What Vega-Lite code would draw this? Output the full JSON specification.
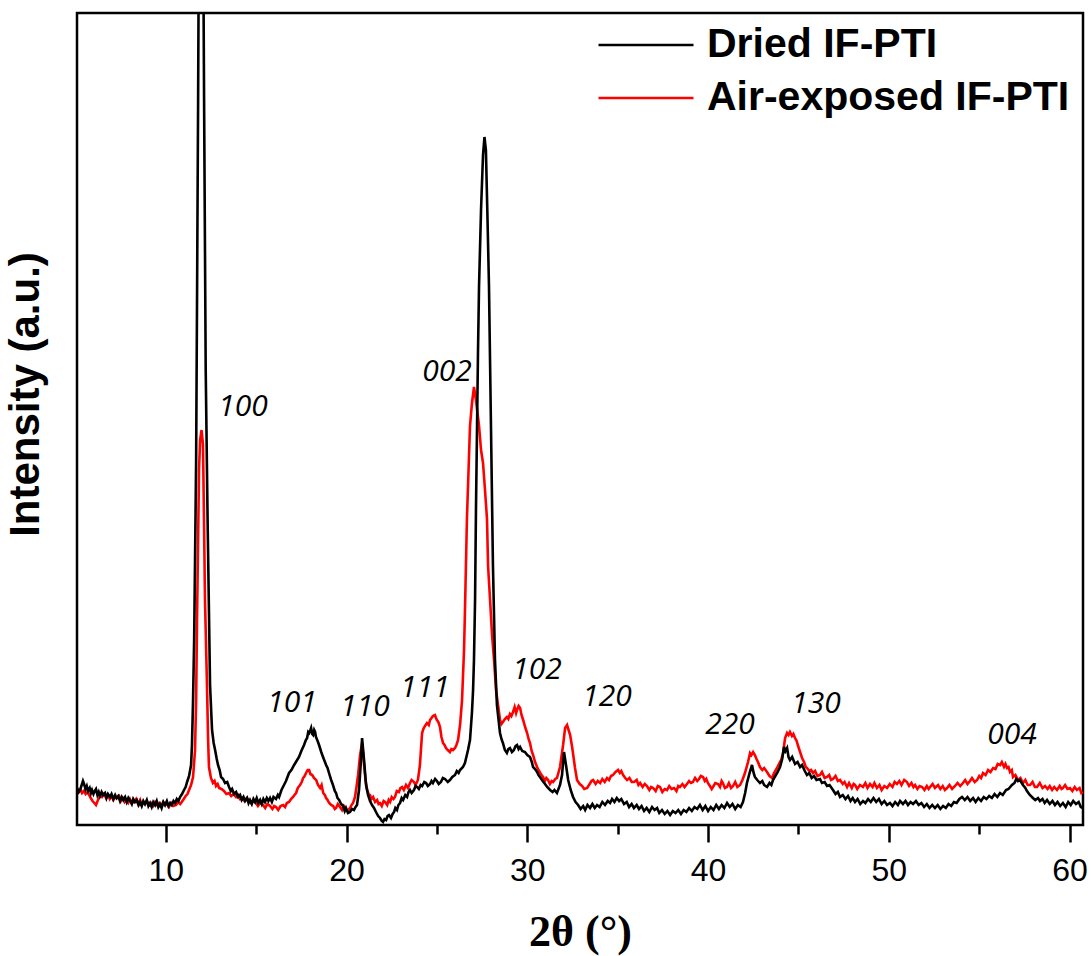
{
"$schema": "https://vega.github.io/schema/vega-lite/v6.json",
"width": 1006, "height": 812,
"autosize": {"type": "none"},
"padding": {"left": 77, "top": 13, "right": 8, "bottom": 131},
"background": "white",
"config": {"view": {"stroke": "black", "strokeWidth": 2.5}},
"datasets": {
"air": [
{"t":5.09,"i":37},{"t":5.2,"i":33},{"t":5.3,"i":35},{"t":5.37,"i":32},{"t":5.47,"i":34},{"t":5.57,"i":31},{"t":5.67,"i":33},{"t":5.76,"i":30},{"t":5.85,"i":27},{"t":5.95,"i":24},{"t":6.05,"i":22},{"t":6.14,"i":20},{"t":6.25,"i":25},{"t":6.36,"i":29},{"t":6.47,"i":28},{"t":6.58,"i":31},{"t":6.7,"i":27},{"t":6.8,"i":30},{"t":6.9,"i":26},{"t":7.0,"i":29},{"t":7.1,"i":25},{"t":7.2,"i":28},{"t":7.31,"i":27},{"t":7.42,"i":29},{"t":7.52,"i":24},{"t":7.62,"i":27},{"t":7.72,"i":23},{"t":7.8,"i":25},{"t":7.92,"i":22},{"t":8.02,"i":26},{"t":8.13,"i":22},{"t":8.25,"i":23},{"t":8.36,"i":26},{"t":8.47,"i":21},{"t":8.58,"i":25},{"t":8.67,"i":20},{"t":8.74,"i":23},{"t":8.85,"i":21},{"t":8.96,"i":24},{"t":9.08,"i":20},{"t":9.19,"i":22},{"t":9.3,"i":19},{"t":9.41,"i":23},{"t":9.52,"i":20},{"t":9.63,"i":22},{"t":9.74,"i":19},{"t":9.85,"i":23},{"t":9.96,"i":20},{"t":10.07,"i":21},{"t":10.18,"i":18},{"t":10.3,"i":22},{"t":10.42,"i":19},{"t":10.57,"i":20},{"t":10.68,"i":23},{"t":10.8,"i":21},{"t":10.96,"i":25},{"t":11.1,"i":29},{"t":11.2,"i":31},{"t":11.29,"i":35},{"t":11.4,"i":40},{"t":11.51,"i":48},{"t":11.62,"i":75},{"t":11.68,"i":125},{"t":11.73,"i":205},{"t":11.79,"i":285},{"t":11.84,"i":355},{"t":11.9,"i":385},{"t":11.98,"i":395},{"t":12.06,"i":380},{"t":12.12,"i":298},{"t":12.17,"i":225},{"t":12.28,"i":140},{"t":12.34,"i":87},{"t":12.39,"i":58},{"t":12.5,"i":47},{"t":12.61,"i":42},{"t":12.7,"i":44},{"t":12.78,"i":39},{"t":12.87,"i":41},{"t":12.95,"i":37},{"t":13.08,"i":36},{"t":13.22,"i":34},{"t":13.35,"i":31},{"t":13.5,"i":32},{"t":13.62,"i":29},{"t":13.75,"i":31},{"t":13.89,"i":28},{"t":14.0,"i":30},{"t":14.1,"i":26},{"t":14.22,"i":27},{"t":14.35,"i":24},{"t":14.48,"i":27},{"t":14.61,"i":25},{"t":14.72,"i":22},{"t":14.85,"i":24},{"t":14.99,"i":22},{"t":15.1,"i":19},{"t":15.22,"i":22},{"t":15.38,"i":20},{"t":15.5,"i":17},{"t":15.62,"i":21},{"t":15.77,"i":19},{"t":15.9,"i":16},{"t":16.0,"i":19},{"t":16.1,"i":18},{"t":16.22,"i":15},{"t":16.35,"i":19},{"t":16.49,"i":20},{"t":16.6,"i":18},{"t":16.7,"i":22},{"t":16.82,"i":23},{"t":16.93,"i":26},{"t":17.04,"i":28},{"t":17.12,"i":30},{"t":17.21,"i":32},{"t":17.3,"i":37},{"t":17.43,"i":40},{"t":17.52,"i":43},{"t":17.6,"i":47},{"t":17.68,"i":49},{"t":17.76,"i":52},{"t":17.85,"i":55},{"t":17.93,"i":55},{"t":18.0,"i":51},{"t":18.1,"i":50},{"t":18.2,"i":47},{"t":18.32,"i":45},{"t":18.42,"i":40},{"t":18.54,"i":37},{"t":18.62,"i":40},{"t":18.71,"i":32},{"t":18.8,"i":30},{"t":18.87,"i":27},{"t":18.95,"i":25},{"t":19.04,"i":22},{"t":19.15,"i":20},{"t":19.26,"i":19},{"t":19.35,"i":16},{"t":19.42,"i":17},{"t":19.52,"i":21},{"t":19.64,"i":18},{"t":19.75,"i":15},{"t":19.85,"i":19},{"t":19.92,"i":17},{"t":20.05,"i":14},{"t":20.19,"i":17},{"t":20.28,"i":20},{"t":20.36,"i":22},{"t":20.47,"i":28},{"t":20.55,"i":38},{"t":20.64,"i":50},{"t":20.75,"i":70},{"t":20.86,"i":82},{"t":20.97,"i":60},{"t":21.05,"i":45},{"t":21.14,"i":35},{"t":21.22,"i":31},{"t":21.3,"i":30},{"t":21.38,"i":26},{"t":21.47,"i":28},{"t":21.58,"i":23},{"t":21.69,"i":25},{"t":21.77,"i":21},{"t":21.85,"i":22},{"t":21.95,"i":19},{"t":22.05,"i":24},{"t":22.13,"i":23},{"t":22.25,"i":20},{"t":22.33,"i":25},{"t":22.41,"i":23},{"t":22.5,"i":28},{"t":22.6,"i":26},{"t":22.68,"i":28},{"t":22.78,"i":34},{"t":22.9,"i":33},{"t":22.98,"i":37},{"t":23.07,"i":38},{"t":23.17,"i":35},{"t":23.29,"i":40},{"t":23.4,"i":37},{"t":23.51,"i":42},{"t":23.6,"i":45},{"t":23.73,"i":43},{"t":23.82,"i":40},{"t":23.95,"i":45},{"t":24.06,"i":60},{"t":24.18,"i":92},{"t":24.25,"i":96},{"t":24.34,"i":99},{"t":24.45,"i":102},{"t":24.55,"i":100},{"t":24.62,"i":105},{"t":24.7,"i":107},{"t":24.78,"i":109},{"t":24.89,"i":110},{"t":24.95,"i":107},{"t":25.0,"i":105},{"t":25.08,"i":103},{"t":25.17,"i":98},{"t":25.25,"i":88},{"t":25.34,"i":82},{"t":25.42,"i":80},{"t":25.5,"i":77},{"t":25.6,"i":75},{"t":25.72,"i":73},{"t":25.8,"i":76},{"t":25.89,"i":75},{"t":26.0,"i":77},{"t":26.08,"i":80},{"t":26.17,"i":85},{"t":26.28,"i":100},{"t":26.39,"i":125},{"t":26.5,"i":175},{"t":26.55,"i":213},{"t":26.66,"i":306},{"t":26.83,"i":399},{"t":26.94,"i":422},{"t":27.05,"i":438},{"t":27.16,"i":425},{"t":27.33,"i":399},{"t":27.44,"i":375},{"t":27.55,"i":362},{"t":27.66,"i":335},{"t":27.77,"i":306},{"t":27.83,"i":259},{"t":27.94,"i":225},{"t":28.05,"i":190},{"t":28.16,"i":165},{"t":28.27,"i":135},{"t":28.38,"i":120},{"t":28.49,"i":105},{"t":28.57,"i":101},{"t":28.65,"i":103},{"t":28.76,"i":106},{"t":28.87,"i":108},{"t":28.95,"i":106},{"t":29.04,"i":111},{"t":29.12,"i":109},{"t":29.21,"i":113},{"t":29.3,"i":118},{"t":29.38,"i":112},{"t":29.43,"i":115},{"t":29.52,"i":119},{"t":29.6,"i":117},{"t":29.68,"i":110},{"t":29.77,"i":105},{"t":29.88,"i":98},{"t":29.99,"i":92},{"t":30.07,"i":86},{"t":30.15,"i":82},{"t":30.24,"i":74},{"t":30.32,"i":70},{"t":30.43,"i":63},{"t":30.54,"i":58},{"t":30.65,"i":54},{"t":30.75,"i":51},{"t":30.87,"i":48},{"t":30.97,"i":44},{"t":31.05,"i":47},{"t":31.15,"i":45},{"t":31.25,"i":41},{"t":31.35,"i":44},{"t":31.43,"i":43},{"t":31.55,"i":46},{"t":31.64,"i":47},{"t":31.81,"i":58},{"t":31.98,"i":80},{"t":32.09,"i":97},{"t":32.2,"i":100},{"t":32.37,"i":90},{"t":32.48,"i":78},{"t":32.64,"i":57},{"t":32.75,"i":45},{"t":32.9,"i":41},{"t":33.03,"i":39},{"t":33.15,"i":36},{"t":33.31,"i":37},{"t":33.45,"i":41},{"t":33.55,"i":44},{"t":33.64,"i":45},{"t":33.78,"i":41},{"t":33.9,"i":44},{"t":34.03,"i":42},{"t":34.15,"i":46},{"t":34.28,"i":43},{"t":34.41,"i":47},{"t":34.52,"i":45},{"t":34.63,"i":49},{"t":34.74,"i":50},{"t":34.88,"i":53},{"t":35.02,"i":55},{"t":35.12,"i":52},{"t":35.2,"i":54},{"t":35.3,"i":50},{"t":35.42,"i":47},{"t":35.52,"i":45},{"t":35.65,"i":47},{"t":35.78,"i":43},{"t":35.91,"i":43},{"t":36.05,"i":45},{"t":36.15,"i":40},{"t":36.24,"i":42},{"t":36.38,"i":38},{"t":36.5,"i":41},{"t":36.62,"i":39},{"t":36.75,"i":35},{"t":36.85,"i":38},{"t":36.96,"i":37},{"t":37.1,"i":34},{"t":37.22,"i":39},{"t":37.34,"i":38},{"t":37.47,"i":33},{"t":37.6,"i":36},{"t":37.73,"i":35},{"t":37.85,"i":39},{"t":37.98,"i":36},{"t":38.12,"i":37},{"t":38.25,"i":34},{"t":38.35,"i":39},{"t":38.44,"i":38},{"t":38.58,"i":41},{"t":38.7,"i":38},{"t":38.83,"i":41},{"t":38.95,"i":44},{"t":39.05,"i":42},{"t":39.16,"i":43},{"t":39.28,"i":47},{"t":39.4,"i":44},{"t":39.5,"i":46},{"t":39.6,"i":49},{"t":39.72,"i":48},{"t":39.82,"i":44},{"t":39.9,"i":46},{"t":39.99,"i":42},{"t":40.1,"i":39},{"t":40.2,"i":36},{"t":40.27,"i":38},{"t":40.4,"i":42},{"t":40.55,"i":41},{"t":40.66,"i":38},{"t":40.75,"i":44},{"t":40.82,"i":42},{"t":40.93,"i":37},{"t":41.04,"i":38},{"t":41.15,"i":42},{"t":41.27,"i":37},{"t":41.38,"i":39},{"t":41.5,"i":43},{"t":41.62,"i":38},{"t":41.77,"i":40},{"t":41.9,"i":45},{"t":42.04,"i":52},{"t":42.21,"i":63},{"t":42.32,"i":72},{"t":42.4,"i":70},{"t":42.49,"i":73},{"t":42.59,"i":70},{"t":42.68,"i":66},{"t":42.76,"i":63},{"t":42.87,"i":58},{"t":43.0,"i":55},{"t":43.1,"i":57},{"t":43.26,"i":53},{"t":43.4,"i":49},{"t":43.54,"i":47},{"t":43.65,"i":52},{"t":43.81,"i":57},{"t":43.92,"i":61},{"t":44.04,"i":65},{"t":44.15,"i":72},{"t":44.26,"i":87},{"t":44.37,"i":92},{"t":44.45,"i":90},{"t":44.53,"i":93},{"t":44.64,"i":89},{"t":44.72,"i":91},{"t":44.81,"i":87},{"t":44.9,"i":84},{"t":44.98,"i":79},{"t":45.09,"i":73},{"t":45.2,"i":67},{"t":45.31,"i":63},{"t":45.4,"i":58},{"t":45.47,"i":57},{"t":45.6,"i":54},{"t":45.7,"i":55},{"t":45.8,"i":52},{"t":45.92,"i":54},{"t":46.05,"i":49},{"t":46.19,"i":50},{"t":46.3,"i":53},{"t":46.45,"i":47},{"t":46.58,"i":48},{"t":46.7,"i":50},{"t":46.8,"i":45},{"t":46.91,"i":46},{"t":47.05,"i":49},{"t":47.18,"i":44},{"t":47.3,"i":45},{"t":47.45,"i":41},{"t":47.55,"i":43},{"t":47.69,"i":38},{"t":47.8,"i":42},{"t":47.95,"i":37},{"t":48.05,"i":41},{"t":48.13,"i":40},{"t":48.25,"i":36},{"t":48.4,"i":40},{"t":48.57,"i":38},{"t":48.7,"i":42},{"t":48.82,"i":37},{"t":48.96,"i":41},{"t":49.1,"i":38},{"t":49.2,"i":42},{"t":49.34,"i":37},{"t":49.48,"i":40},{"t":49.6,"i":35},{"t":49.75,"i":39},{"t":49.9,"i":37},{"t":50.05,"i":41},{"t":50.2,"i":38},{"t":50.32,"i":43},{"t":50.45,"i":41},{"t":50.58,"i":44},{"t":50.7,"i":40},{"t":50.85,"i":45},{"t":51.0,"i":43},{"t":51.12,"i":39},{"t":51.25,"i":42},{"t":51.36,"i":38},{"t":51.45,"i":40},{"t":51.58,"i":36},{"t":51.7,"i":39},{"t":51.84,"i":38},{"t":51.97,"i":35},{"t":52.1,"i":39},{"t":52.2,"i":36},{"t":52.28,"i":38},{"t":52.42,"i":41},{"t":52.55,"i":37},{"t":52.72,"i":40},{"t":52.85,"i":36},{"t":52.98,"i":39},{"t":53.1,"i":35},{"t":53.22,"i":37},{"t":53.35,"i":40},{"t":53.5,"i":36},{"t":53.66,"i":39},{"t":53.8,"i":42},{"t":53.95,"i":39},{"t":54.1,"i":42},{"t":54.22,"i":45},{"t":54.35,"i":41},{"t":54.49,"i":44},{"t":54.6,"i":47},{"t":54.75,"i":43},{"t":54.88,"i":45},{"t":55.0,"i":49},{"t":55.1,"i":47},{"t":55.21,"i":52},{"t":55.35,"i":50},{"t":55.49,"i":55},{"t":55.62,"i":53},{"t":55.77,"i":57},{"t":55.9,"i":56},{"t":56.02,"i":61},{"t":56.15,"i":60},{"t":56.25,"i":63},{"t":56.37,"i":58},{"t":56.45,"i":61},{"t":56.54,"i":57},{"t":56.62,"i":58},{"t":56.7,"i":53},{"t":56.8,"i":55},{"t":56.87,"i":48},{"t":57.0,"i":50},{"t":57.14,"i":45},{"t":57.28,"i":47},{"t":57.42,"i":42},{"t":57.55,"i":45},{"t":57.68,"i":40},{"t":57.81,"i":40},{"t":57.95,"i":43},{"t":58.08,"i":38},{"t":58.2,"i":38},{"t":58.35,"i":42},{"t":58.5,"i":37},{"t":58.64,"i":39},{"t":58.78,"i":36},{"t":58.9,"i":39},{"t":59.03,"i":35},{"t":59.15,"i":38},{"t":59.3,"i":35},{"t":59.45,"i":39},{"t":59.55,"i":36},{"t":59.63,"i":37},{"t":59.75,"i":40},{"t":59.88,"i":36},{"t":60.02,"i":37},{"t":60.15,"i":34},{"t":60.28,"i":38},{"t":60.4,"i":35},{"t":60.55,"i":37},{"t":60.65,"i":32},{"t":60.74,"i":33}
],
"dried": [
{"t":5.09,"i":37},{"t":5.18,"i":33},{"t":5.26,"i":35},{"t":5.35,"i":40},{"t":5.42,"i":44},{"t":5.48,"i":41},{"t":5.56,"i":36},{"t":5.63,"i":39},{"t":5.7,"i":34},{"t":5.79,"i":37},{"t":5.86,"i":32},{"t":5.92,"i":35},{"t":6.0,"i":31},{"t":6.07,"i":34},{"t":6.14,"i":36},{"t":6.22,"i":30},{"t":6.29,"i":33},{"t":6.36,"i":29},{"t":6.45,"i":33},{"t":6.53,"i":30},{"t":6.64,"i":32},{"t":6.72,"i":27},{"t":6.8,"i":31},{"t":6.92,"i":28},{"t":7.0,"i":31},{"t":7.1,"i":26},{"t":7.2,"i":30},{"t":7.28,"i":27},{"t":7.37,"i":29},{"t":7.47,"i":24},{"t":7.56,"i":28},{"t":7.65,"i":25},{"t":7.75,"i":28},{"t":7.84,"i":23},{"t":7.93,"i":27},{"t":8.03,"i":24},{"t":8.12,"i":21},{"t":8.2,"i":26},{"t":8.3,"i":23},{"t":8.4,"i":25},{"t":8.5,"i":20},{"t":8.58,"i":23},{"t":8.67,"i":19},{"t":8.76,"i":24},{"t":8.85,"i":21},{"t":8.95,"i":25},{"t":9.04,"i":19},{"t":9.13,"i":22},{"t":9.22,"i":18},{"t":9.31,"i":23},{"t":9.41,"i":20},{"t":9.5,"i":24},{"t":9.59,"i":18},{"t":9.68,"i":21},{"t":9.77,"i":17},{"t":9.87,"i":23},{"t":9.96,"i":20},{"t":10.06,"i":24},{"t":10.15,"i":19},{"t":10.24,"i":22},{"t":10.33,"i":20},{"t":10.43,"i":24},{"t":10.52,"i":22},{"t":10.61,"i":26},{"t":10.7,"i":24},{"t":10.79,"i":28},{"t":10.9,"i":31},{"t":11.01,"i":35},{"t":11.1,"i":38},{"t":11.18,"i":43},{"t":11.29,"i":49},{"t":11.4,"i":60},{"t":11.45,"i":80},{"t":11.51,"i":125},{"t":11.57,"i":185},{"t":11.62,"i":265},{"t":11.68,"i":365},{"t":11.73,"i":525},{"t":11.79,"i":725},{"t":11.84,"i":925},{"t":11.95,"i":1300},{"t":12.06,"i":925},{"t":12.12,"i":725},{"t":12.17,"i":575},{"t":12.21,"i":455},{"t":12.32,"i":298},{"t":12.45,"i":140},{"t":12.56,"i":95},{"t":12.65,"i":82},{"t":12.73,"i":75},{"t":12.82,"i":66},{"t":12.89,"i":60},{"t":12.98,"i":55},{"t":13.06,"i":48},{"t":13.17,"i":46},{"t":13.28,"i":42},{"t":13.4,"i":43},{"t":13.5,"i":38},{"t":13.6,"i":34},{"t":13.67,"i":36},{"t":13.78,"i":31},{"t":13.89,"i":33},{"t":14.0,"i":28},{"t":14.11,"i":30},{"t":14.2,"i":25},{"t":14.3,"i":28},{"t":14.39,"i":24},{"t":14.5,"i":27},{"t":14.58,"i":22},{"t":14.66,"i":25},{"t":14.76,"i":21},{"t":14.85,"i":26},{"t":14.94,"i":23},{"t":15.03,"i":27},{"t":15.12,"i":22},{"t":15.22,"i":25},{"t":15.31,"i":21},{"t":15.4,"i":26},{"t":15.49,"i":23},{"t":15.59,"i":27},{"t":15.68,"i":24},{"t":15.77,"i":27},{"t":15.87,"i":23},{"t":15.96,"i":28},{"t":16.1,"i":26},{"t":16.2,"i":30},{"t":16.27,"i":28},{"t":16.4,"i":35},{"t":16.54,"i":40},{"t":16.65,"i":44},{"t":16.82,"i":52},{"t":16.95,"i":55},{"t":17.1,"i":60},{"t":17.2,"i":63},{"t":17.37,"i":68},{"t":17.5,"i":74},{"t":17.65,"i":80},{"t":17.75,"i":85},{"t":17.82,"i":87},{"t":17.88,"i":93},{"t":17.93,"i":92},{"t":18.0,"i":95},{"t":18.04,"i":97},{"t":18.1,"i":91},{"t":18.15,"i":90},{"t":18.21,"i":95},{"t":18.26,"i":93},{"t":18.31,"i":88},{"t":18.4,"i":84},{"t":18.48,"i":80},{"t":18.6,"i":73},{"t":18.7,"i":68},{"t":18.87,"i":60},{"t":18.95,"i":57},{"t":19.03,"i":52},{"t":19.15,"i":45},{"t":19.25,"i":40},{"t":19.35,"i":34},{"t":19.42,"i":32},{"t":19.5,"i":27},{"t":19.59,"i":25},{"t":19.7,"i":21},{"t":19.81,"i":19},{"t":19.9,"i":14},{"t":19.97,"i":17},{"t":20.08,"i":12},{"t":20.19,"i":13},{"t":20.3,"i":16},{"t":20.41,"i":15},{"t":20.5,"i":18},{"t":20.58,"i":20},{"t":20.69,"i":35},{"t":20.8,"i":65},{"t":20.86,"i":87},{"t":20.97,"i":65},{"t":21.08,"i":40},{"t":21.19,"i":30},{"t":21.3,"i":24},{"t":21.41,"i":20},{"t":21.52,"i":17},{"t":21.63,"i":13},{"t":21.75,"i":9},{"t":21.85,"i":7},{"t":21.95,"i":4},{"t":22.02,"i":3},{"t":22.1,"i":6},{"t":22.19,"i":5},{"t":22.27,"i":9},{"t":22.35,"i":10},{"t":22.46,"i":7},{"t":22.55,"i":11},{"t":22.63,"i":13},{"t":22.7,"i":17},{"t":22.79,"i":15},{"t":22.87,"i":20},{"t":22.96,"i":22},{"t":23.05,"i":27},{"t":23.13,"i":25},{"t":23.25,"i":30},{"t":23.35,"i":28},{"t":23.43,"i":33},{"t":23.51,"i":35},{"t":23.6,"i":32},{"t":23.73,"i":35},{"t":23.82,"i":39},{"t":23.9,"i":38},{"t":24.0,"i":36},{"t":24.1,"i":40},{"t":24.18,"i":39},{"t":24.3,"i":43},{"t":24.4,"i":42},{"t":24.5,"i":39},{"t":24.62,"i":41},{"t":24.7,"i":44},{"t":24.78,"i":42},{"t":24.9,"i":46},{"t":25.0,"i":44},{"t":25.1,"i":41},{"t":25.22,"i":43},{"t":25.33,"i":47},{"t":25.45,"i":46},{"t":25.6,"i":43},{"t":25.72,"i":45},{"t":25.85,"i":48},{"t":26.0,"i":50},{"t":26.1,"i":54},{"t":26.2,"i":52},{"t":26.28,"i":55},{"t":26.44,"i":58},{"t":26.55,"i":62},{"t":26.72,"i":75},{"t":26.83,"i":85},{"t":26.94,"i":113},{"t":27.0,"i":135},{"t":27.05,"i":165},{"t":27.11,"i":225},{"t":27.16,"i":315},{"t":27.22,"i":399},{"t":27.27,"i":470},{"t":27.33,"i":539},{"t":27.44,"i":615},{"t":27.55,"i":670},{"t":27.63,"i":688},{"t":27.71,"i":675},{"t":27.8,"i":605},{"t":27.88,"i":539},{"t":27.99,"i":399},{"t":28.1,"i":259},{"t":28.21,"i":166},{"t":28.32,"i":120},{"t":28.49,"i":92},{"t":28.57,"i":86},{"t":28.65,"i":82},{"t":28.76,"i":75},{"t":28.87,"i":72},{"t":28.95,"i":76},{"t":29.04,"i":77},{"t":29.15,"i":73},{"t":29.26,"i":75},{"t":29.35,"i":79},{"t":29.43,"i":80},{"t":29.52,"i":76},{"t":29.6,"i":78},{"t":29.72,"i":74},{"t":29.87,"i":73},{"t":30.0,"i":70},{"t":30.15,"i":68},{"t":30.25,"i":63},{"t":30.32,"i":58},{"t":30.43,"i":56},{"t":30.54,"i":53},{"t":30.62,"i":50},{"t":30.7,"i":48},{"t":30.85,"i":44},{"t":30.98,"i":41},{"t":31.1,"i":38},{"t":31.26,"i":35},{"t":31.4,"i":33},{"t":31.5,"i":35},{"t":31.64,"i":32},{"t":31.81,"i":40},{"t":31.92,"i":50},{"t":32.03,"i":73},{"t":32.14,"i":60},{"t":32.26,"i":45},{"t":32.4,"i":35},{"t":32.53,"i":28},{"t":32.67,"i":23},{"t":32.81,"i":20},{"t":32.95,"i":16},{"t":33.09,"i":19},{"t":33.2,"i":15},{"t":33.33,"i":20},{"t":33.47,"i":17},{"t":33.6,"i":21},{"t":33.73,"i":17},{"t":33.86,"i":20},{"t":34.0,"i":18},{"t":34.15,"i":23},{"t":34.3,"i":20},{"t":34.45,"i":24},{"t":34.58,"i":22},{"t":34.69,"i":26},{"t":34.82,"i":23},{"t":34.95,"i":27},{"t":35.08,"i":24},{"t":35.2,"i":26},{"t":35.35,"i":21},{"t":35.5,"i":23},{"t":35.63,"i":18},{"t":35.77,"i":21},{"t":35.9,"i":17},{"t":36.05,"i":20},{"t":36.18,"i":16},{"t":36.32,"i":19},{"t":36.46,"i":14},{"t":36.6,"i":17},{"t":36.75,"i":13},{"t":36.9,"i":18},{"t":37.04,"i":15},{"t":37.18,"i":17},{"t":37.3,"i":12},{"t":37.45,"i":15},{"t":37.6,"i":11},{"t":37.75,"i":14},{"t":37.9,"i":10},{"t":38.05,"i":14},{"t":38.2,"i":12},{"t":38.35,"i":15},{"t":38.5,"i":11},{"t":38.65,"i":15},{"t":38.8,"i":13},{"t":38.95,"i":17},{"t":39.1,"i":14},{"t":39.25,"i":18},{"t":39.4,"i":16},{"t":39.55,"i":20},{"t":39.7,"i":15},{"t":39.85,"i":19},{"t":40.0,"i":14},{"t":40.15,"i":18},{"t":40.3,"i":15},{"t":40.45,"i":20},{"t":40.6,"i":16},{"t":40.75,"i":20},{"t":40.9,"i":17},{"t":41.05,"i":22},{"t":41.2,"i":18},{"t":41.35,"i":21},{"t":41.5,"i":16},{"t":41.65,"i":20},{"t":41.8,"i":18},{"t":41.93,"i":23},{"t":42.05,"i":32},{"t":42.15,"i":42},{"t":42.31,"i":53},{"t":42.43,"i":60},{"t":42.52,"i":52},{"t":42.59,"i":48},{"t":42.72,"i":45},{"t":42.87,"i":42},{"t":43.0,"i":44},{"t":43.1,"i":40},{"t":43.26,"i":38},{"t":43.4,"i":42},{"t":43.5,"i":40},{"t":43.59,"i":45},{"t":43.75,"i":50},{"t":43.85,"i":53},{"t":43.98,"i":58},{"t":44.1,"i":66},{"t":44.2,"i":78},{"t":44.28,"i":74},{"t":44.37,"i":77},{"t":44.45,"i":68},{"t":44.53,"i":65},{"t":44.65,"i":68},{"t":44.81,"i":61},{"t":44.95,"i":63},{"t":45.09,"i":58},{"t":45.2,"i":60},{"t":45.35,"i":54},{"t":45.47,"i":50},{"t":45.6,"i":52},{"t":45.73,"i":47},{"t":45.86,"i":49},{"t":46.0,"i":45},{"t":46.19,"i":46},{"t":46.3,"i":42},{"t":46.45,"i":43},{"t":46.58,"i":39},{"t":46.72,"i":40},{"t":46.91,"i":35},{"t":47.05,"i":31},{"t":47.18,"i":33},{"t":47.3,"i":28},{"t":47.45,"i":30},{"t":47.6,"i":26},{"t":47.74,"i":29},{"t":47.88,"i":24},{"t":48.0,"i":27},{"t":48.13,"i":23},{"t":48.27,"i":26},{"t":48.42,"i":21},{"t":48.57,"i":24},{"t":48.7,"i":22},{"t":48.85,"i":26},{"t":49.0,"i":23},{"t":49.15,"i":27},{"t":49.3,"i":23},{"t":49.45,"i":26},{"t":49.6,"i":21},{"t":49.75,"i":24},{"t":49.9,"i":20},{"t":50.06,"i":22},{"t":50.2,"i":19},{"t":50.35,"i":23},{"t":50.5,"i":20},{"t":50.62,"i":24},{"t":50.78,"i":21},{"t":50.92,"i":24},{"t":51.06,"i":20},{"t":51.2,"i":23},{"t":51.34,"i":21},{"t":51.5,"i":24},{"t":51.65,"i":20},{"t":51.8,"i":22},{"t":51.95,"i":18},{"t":52.1,"i":21},{"t":52.25,"i":17},{"t":52.4,"i":20},{"t":52.55,"i":17},{"t":52.7,"i":20},{"t":52.85,"i":16},{"t":53.0,"i":19},{"t":53.15,"i":17},{"t":53.3,"i":21},{"t":53.45,"i":19},{"t":53.6,"i":23},{"t":53.75,"i":22},{"t":53.9,"i":26},{"t":54.05,"i":28},{"t":54.2,"i":25},{"t":54.35,"i":28},{"t":54.5,"i":24},{"t":54.66,"i":27},{"t":54.8,"i":23},{"t":54.95,"i":27},{"t":55.1,"i":24},{"t":55.25,"i":28},{"t":55.4,"i":26},{"t":55.55,"i":29},{"t":55.7,"i":27},{"t":55.85,"i":31},{"t":56.0,"i":28},{"t":56.15,"i":32},{"t":56.3,"i":30},{"t":56.48,"i":35},{"t":56.62,"i":36},{"t":56.81,"i":40},{"t":56.95,"i":42},{"t":57.05,"i":46},{"t":57.14,"i":44},{"t":57.25,"i":45},{"t":57.42,"i":40},{"t":57.55,"i":37},{"t":57.64,"i":34},{"t":57.8,"i":30},{"t":57.97,"i":27},{"t":58.1,"i":25},{"t":58.25,"i":27},{"t":58.36,"i":24},{"t":58.5,"i":26},{"t":58.62,"i":22},{"t":58.75,"i":25},{"t":58.9,"i":21},{"t":59.05,"i":24},{"t":59.19,"i":20},{"t":59.33,"i":23},{"t":59.48,"i":19},{"t":59.63,"i":22},{"t":59.78,"i":18},{"t":59.92,"i":23},{"t":60.06,"i":20},{"t":60.2,"i":24},{"t":60.35,"i":21},{"t":60.5,"i":23},{"t":60.62,"i":18},{"t":60.74,"i":17}
],
"labels": [
{"t":14.27,"i":418,"label":"100"},{"t":25.56,"i":453,"label":"002"},{"t":16.99,"i":122,"label":"101"},{"t":21.02,"i":118,"label":"110"},{"t":24.34,"i":137,"label":"111"},{"t":30.54,"i":155,"label":"102"},{"t":34.41,"i":128,"label":"120"},{"t":41.21,"i":100,"label":"220"},{"t":45.97,"i":121,"label":"130"},{"t":56.81,"i":90,"label":"004"}
]
},
"layer": [
{
"data": {"name": "air"},
"mark": {"type": "line", "clip": true, "strokeWidth": 2.6},
"encoding": {
"x": {"field": "t", "type": "quantitative",
 "scale": {"domain": [5.09, 60.74], "nice": false, "zero": false},
 "axis": {"values": [10,15,20,25,30,35,40,45,50,55,60],
  "labelExpr": "datum.value % 10 === 0 ? datum.label : ''",
  "tickSize": {"condition": {"test": "datum.value % 10 === 0", "value": 17}, "value": 9},
  "tickWidth": 2.5, "tickColor": "black", "domain": false, "grid": false, "labelFlush": false,
  "labelFont": "Liberation Sans", "labelFontSize": 32, "labelColor": "black", "labelPadding": 13,
  "title": "2θ (°)", "titleFont": "Liberation Serif", "titleFontSize": 44, "titleFontWeight": "bold", "titleColor": "black", "titlePadding": 24}},
"y": {"field": "i", "type": "quantitative",
 "scale": {"domain": [0, 812], "nice": false, "zero": false},
 "axis": {"title": "Intensity (a.u.)", "ticks": false, "labels": false, "domain": false, "grid": false,
  "titleFont": "Liberation Sans", "titleFontSize": 42, "titleFontWeight": "bold", "titleColor": "black", "titlePadding": 30, "titleY": 381}},
"stroke": {"datum": "Air-exposed IF-PTI", "type": "nominal",
 "scale": {"domain": ["Air-exposed IF-PTI"], "range": ["#ff0000"]},
 "legend": {"orient": "none", "legendX": 520, "legendY": 36, "title": null, "padding": 0,
  "symbolType": "stroke", "symbolSize": 9025, "symbolStrokeWidth": 2.5,
  "labelFont": "Liberation Sans", "labelFontSize": 41, "labelFontWeight": "bold", "labelColor": "black",
  "labelOffset": 12, "labelLimit": 0}}
}
},
{
"data": {"name": "dried"},
"mark": {"type": "line", "clip": true, "strokeWidth": 2.6},
"encoding": {
"x": {"field": "t", "type": "quantitative"},
"y": {"field": "i", "type": "quantitative"},
"color": {"datum": "Dried IF-PTI", "type": "nominal",
 "scale": {"domain": ["Dried IF-PTI"], "range": ["#000000"]},
 "legend": {"orient": "none", "legendX": 520, "legendY": -17, "title": null, "padding": 0,
  "symbolType": "stroke", "symbolSize": 9025, "symbolStrokeWidth": 2.5,
  "labelFont": "Liberation Sans", "labelFontSize": 41, "labelFontWeight": "bold", "labelColor": "black",
  "labelOffset": 12, "labelLimit": 0}}
}
},
{
"data": {"name": "labels"},
"mark": {"type": "text", "font": "Open Sans", "fontStyle": "italic", "fontSize": 30, "align": "center", "baseline": "middle", "color": "black"},
"encoding": {
"x": {"field": "t", "type": "quantitative"},
"y": {"field": "i", "type": "quantitative"},
"text": {"field": "label"}
}
}
]
}
